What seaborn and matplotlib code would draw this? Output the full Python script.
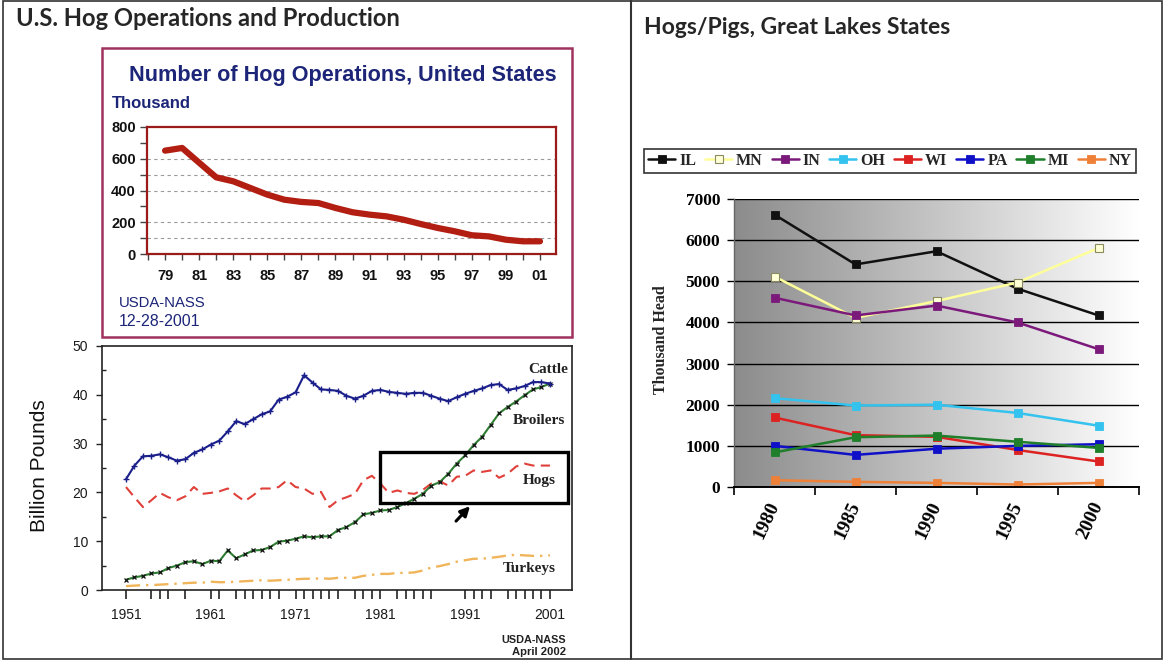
import numpy as np
import pandas as pd
import matplotlib.pyplot as plt
import seaborn as sns
from matplotlib.patches import Rectangle
from matplotlib.colors import LinearSegmentedColormap
from matplotlib.ticker import FixedLocator, MultipleLocator

# --- hog operations, United States (thousand)
ops_years = list(range(1979, 2002))
ops_thousand = [651, 668, 575, 483, 458, 416, 374, 342, 328, 321, 290, 263,
                248, 237, 216, 189, 164, 143, 118, 111, 90, 80, 80]

# --- meat production (billion pounds)
prod_years = list(range(1951, 2002))
cattle = [22.7, 25.5, 27.4, 27.5, 27.8, 27.2, 26.5, 26.8, 28.1, 28.8,
          29.8, 30.6, 32.5, 34.6, 34.0, 35.0, 36.0, 36.6, 39.0, 39.6,
          40.5, 44.0, 42.5, 41.1, 41.0, 40.8, 39.8, 39.2, 39.8, 40.8,
          41.0, 40.6, 40.4, 40.2, 40.4, 40.4, 39.8, 39.2, 38.7, 39.5,
          40.2, 40.8, 41.3, 42.0, 42.2, 41.0, 41.3, 41.8, 42.6, 42.6, 42.3]
broilers = [2.1, 2.6, 2.9, 3.4, 3.6, 4.5, 5.0, 5.7, 5.9, 5.3,
            6.0, 5.9, 8.1, 6.5, 7.3, 8.1, 8.2, 8.8, 9.9, 10.1,
            10.5, 11.0, 10.8, 11.0, 11.0, 12.3, 12.9, 13.9, 15.5, 15.8,
            16.3, 16.4, 17.0, 17.8, 18.7, 19.7, 21.4, 22.1, 23.8, 25.9,
            27.6, 29.7, 31.4, 33.8, 36.2, 37.5, 38.6, 39.9, 41.1, 41.6, 42.3]
hogs = [21.1, 19.0, 17.0, 18.4, 19.9, 19.0, 18.4, 19.2, 21.1, 19.7,
        19.9, 20.2, 20.8, 19.4, 18.2, 19.4, 20.8, 20.8, 21.1, 22.5,
        21.1, 20.8, 19.7, 20.1, 17.0, 18.4, 19.0, 19.7, 22.5, 23.4,
        21.8, 19.9, 20.4, 19.9, 19.7, 20.5, 21.8, 22.3, 21.4, 23.2,
        23.4, 24.5, 24.2, 24.5, 23.0, 23.8, 25.3, 25.9, 25.5, 25.5, 25.5]
turkeys = [0.8, 0.9, 1.0, 1.0, 1.1, 1.2, 1.3, 1.4, 1.5, 1.5,
           1.7, 1.6, 1.6, 1.7, 1.8, 1.9, 2.0, 1.9, 2.0, 2.1,
           2.2, 2.3, 2.3, 2.4, 2.3, 2.5, 2.5, 2.5, 2.9, 3.1,
           3.3, 3.3, 3.5, 3.5, 3.6, 4.0, 4.6, 4.9, 5.3, 5.8,
           6.1, 6.4, 6.4, 6.6, 6.8, 7.1, 7.2, 7.1, 7.0, 7.0, 7.1]
prod_minor_ticks = [1954, 1955, 1956, 1958, 1962, 1964, 1965, 1966, 1967, 1968,
                    1969, 1972, 1973, 1974, 1975, 1976, 1978, 1979, 1980, 1983,
                    1984, 1985, 1986, 1987, 1992, 1993, 1994, 1996, 1997, 1998,
                    1999, 2000]

# --- hogs/pigs, Great Lakes states (thousand head)
gl_years = ['1980', '1985', '1990', '1995', '2000']
gl_states = ['IL', 'MN', 'IN', 'OH', 'WI', 'PA', 'MI', 'NY']
il = [6620, 5410, 5730, 4820, 4170]
mn = [5115, 4110, 4520, 4970, 5810]
ind = [4600, 4170, 4410, 4000, 3350]
oh = [2160, 1980, 2000, 1800, 1490]
wi = [1690, 1260, 1220, 900, 620]
pa = [1000, 780, 930, 1000, 1040]
mi = [840, 1210, 1250, 1100, 950]
ny = [165, 125, 100, 60, 100]
gl_colors = {'IL': '#111111', 'MN': '#ffff99', 'IN': '#7b1a7b', 'OH': '#33c3ee',
             'WI': '#dd2222', 'PA': '#1010c8', 'MI': '#1f7f2a', 'NY': '#ee8038'}

sns.set_theme(style='white')
plt.rcParams['font.family'] = ['Liberation Sans', 'DejaVu Sans']

W, H = 1164, 661
fig = plt.figure(figsize=(W / 100, H / 100), dpi=100)


def px(x0, y0, x1, y1):
    return [x0 / W, 1 - y1 / H, (x1 - x0) / W, (y1 - y0) / H]


def fit(t, width):
    w = t.get_window_extent(fig.canvas.get_renderer()).width
    t.set_fontsize(t.get_fontsize() * width / w)


# page frame, drawn in pixel coordinates
bg = fig.add_axes([0, 0, 1, 1])
bg.set_xlim(0, W)
bg.set_ylim(H, 0)
bg.axis('off')
bg.add_patch(Rectangle((3, 1), W - 5, H - 3, fill=False, ec='#333333', lw=1.2))
bg.plot([631, 631], [1, H - 2], color='#333333', lw=1.5)
bg.add_patch(Rectangle((102, 48), 470, 289, fill=False, ec='#a0325e', lw=1.8))

t = bg.text(16, 19, 'U.S. Hog Operations and Production', family='Lato',
            weight='bold', fontsize=15, va='center')
fit(t, 385)
t = bg.text(644, 27, 'Hogs/Pigs, Great Lakes States', family='Lato',
            weight='bold', fontsize=15, va='center')
fit(t, 308)

# ---------- inset: number of hog operations
navy = '#1c2578'
t = bg.text(343, 75, 'Number of Hog Operations, United States', color=navy,
            weight='bold', fontsize=14, ha='center', va='center')
fit(t, 428)
t = bg.text(112, 103, 'Thousand', color=navy, weight='bold', fontsize=11, va='center')
fit(t, 80)
t = bg.text(119, 303, 'USDA-NASS', color=navy, fontsize=10, va='center')
fit(t, 87)
t = bg.text(119, 321, '12-28-2001', color=navy, fontsize=10, va='center')
fit(t, 82)

ax1 = fig.add_axes(px(147, 127, 556, 254))
sns.lineplot(x=ops_years, y=ops_thousand, color='#b21e12', lw=4.5, ax=ax1)
ax1.set_xlim(1977.94, 2001.94)
ax1.set_ylim(0, 800)
for v in [100, 200, 400, 500, 600]:
    ax1.axhline(v, color='#9a9a9a', lw=0.8, ls=(0, (3, 3)), zorder=1)
ax1.set_xticks(range(1979, 2002, 2))
ax1.set_xticklabels([f'{y % 100:02d}' for y in range(1979, 2002, 2)])
ax1.xaxis.set_minor_locator(MultipleLocator(1))
ax1.set_yticks(range(0, 801, 200))
ax1.yaxis.set_minor_locator(MultipleLocator(100))
ax1.tick_params(axis='x', which='both', length=4, width=1, color='#444444', bottom=True, pad=7)
ax1.tick_params(axis='y', which='both', length=5, width=1, color='#444444', left=True, pad=3)
ax1.tick_params(labelsize=10.5, labelcolor='#111111')
plt.setp(ax1.get_xticklabels() + ax1.get_yticklabels(), fontweight='bold')
for s in ax1.spines.values():
    s.set_color('#9b1b1b')
    s.set_linewidth(1.6)

# ---------- meat production
prod = pd.DataFrame({'year': prod_years, 'Cattle': cattle, 'Broilers': broilers,
                     'Hogs': hogs, 'Turkeys': turkeys})
ax2 = fig.add_axes(px(102, 346, 572, 590))
sns.lineplot(data=prod, x='year', y='Turkeys', color='#f0b55a', lw=1.7,
             ls=(0, (6, 2.5, 1, 2.5)), ax=ax2)
sns.lineplot(data=prod, x='year', y='Hogs', color='#e0403a', lw=1.5,
             ls=(0, (5, 3)), ax=ax2)
sns.lineplot(data=prod, x='year', y='Broilers', color='#2e7d32', lw=1.5,
             marker='x', ms=3.5, mew=0.9, mec='#111111', ax=ax2)
sns.lineplot(data=prod, x='year', y='Cattle', color='#1b1f8a', lw=1.5,
             marker='+', ms=5, mew=1, mec='#1b1f8a', ax=ax2)
ax2.set(xlabel='', ylabel='')
ax2.set_xlim(1948.17, 2003.6)
ax2.set_ylim(0, 50)
ax2.set_xticks(range(1951, 2002, 10))
ax2.xaxis.set_minor_locator(FixedLocator(prod_minor_ticks))
ax2.set_yticks(range(0, 51, 10))
ax2.yaxis.set_minor_locator(MultipleLocator(5))
ax2.tick_params(axis='x', which='both', length=6.5, width=1.2, color='#222222',
                bottom=True, direction='out', pad=6.5)
ax2.tick_params(axis='y', which='major', length=4, width=1, color='#222222', left=True, pad=6)
ax2.tick_params(axis='y', which='minor', length=3, width=1, color='#222222', left=True, direction='in')
ax2.tick_params(labelsize=10, labelcolor='#1a1a1a')
for s in ax2.spines.values():
    s.set_color('#222222')
    s.set_linewidth(1.2)
ax2.set_ylabel('Billion Pounds', fontsize=15, color='#111111')
ax2.yaxis.set_label_coords(-0.112, 0.508)

ax2.add_patch(Rectangle((1980.95, 17.83), 22.17, 10.45, fill=False, ec='black',
                        lw=2.4, zorder=5, clip_on=False))
ax2.annotate('', xy=(1991.8, 17.6), xytext=(1989.7, 13.7),
             arrowprops=dict(arrowstyle='-|>', color='black', lw=2.2, mutation_scale=14))
lab_kw = dict(family='Liberation Serif', weight='bold', fontsize=11,
              color='#222222', ha='center', va='center')
ax2.text(2000.8, 45.1, 'Cattle', **lab_kw)
ax2.text(1999.7, 34.8, 'Broilers', **lab_kw)
ax2.text(1999.8, 22.5, 'Hogs', **lab_kw)
ax2.text(1998.6, 4.5, 'Turkeys', **lab_kw)

t = bg.text(566, 640, 'USDA-NASS', ha='right', va='center', weight='bold',
            fontsize=7, color='#222222')
fit(t, 65)
t = bg.text(566, 652, 'April 2002', ha='right', va='center', weight='bold',
            fontsize=7, color='#222222')
fit(t, 54)

# ---------- Great Lakes states
gl = pd.DataFrame({'year': gl_years, 'IL': il, 'MN': mn, 'IN': ind, 'OH': oh,
                   'WI': wi, 'PA': pa, 'MI': mi, 'NY': ny})
gl = gl.melt(id_vars='year', var_name='state', value_name='head')

ax3 = fig.add_axes(px(734, 199, 1139, 487))
for st in gl_states:
    d = gl[gl['state'] == st]
    c = gl_colors[st]
    if st == 'MN':
        sns.lineplot(data=d, x='year', y='head', color=c, lw=1.8, marker='s', ms=6,
                     mfc='#ffffd8', mec='#8a8a60', mew=0.8, label=st, ax=ax3)
    else:
        sns.lineplot(data=d, x='year', y='head', color=c, lw=1.8, marker='s', ms=5.5,
                     mfc=c, mec=c, mew=0.6, label=st, ax=ax3)
ax3.get_legend().remove()

grad = LinearSegmentedColormap.from_list('grad', ['#8c8c8c', '#ffffff'])
ax3.imshow(np.linspace(0, 1, 256)[None, :], cmap=grad, extent=(-0.5, 4.5, 0, 7000),
           aspect='auto', zorder=0)
ax3.set_xlim(-0.5, 4.5)
ax3.set_ylim(0, 7000)
ax3.set_yticks(range(0, 7001, 1000))
ax3.yaxis.grid(True, color='black', lw=1)
ax3.set_axisbelow(True)
ax3.set_xticks(np.arange(-0.5, 5, 1), minor=True)
ax3.tick_params(axis='x', which='minor', length=6, width=1.2, color='black', bottom=True)
ax3.tick_params(axis='x', which='major', length=0, pad=11)
ax3.tick_params(axis='y', length=5, width=1, color='black', left=True, pad=5)
ax3.tick_params(axis='y', labelsize=12.5, labelcolor='black')
ax3.tick_params(axis='x', labelsize=14, labelcolor='black')
plt.setp(ax3.get_yticklabels(), family='Liberation Serif', weight='bold')
plt.setp(ax3.get_xticklabels(), family='Liberation Serif', weight='bold',
         rotation=65, ha='right', va='center', rotation_mode='anchor')
for k in ['top', 'right']:
    ax3.spines[k].set_visible(False)
ax3.spines['bottom'].set_color('black')
ax3.spines['bottom'].set_linewidth(1.4)
ax3.spines['left'].set_color('#666666')
ax3.spines['left'].set_linewidth(1)
ax3.set_xlabel('')
ax3.set_ylabel('Thousand Head', family='Liberation Serif', weight='bold', fontsize=11.5)
ax3.yaxis.set_label_coords(-0.16, 0.51)

h, l = ax3.get_legend_handles_labels()
leg = fig.legend(h, l, ncol=8, loc='center', bbox_to_anchor=(890 / W, 1 - 161 / H),
                 frameon=True, fancybox=False, edgecolor='black',
                 prop={'family': 'Liberation Serif', 'weight': 'bold', 'size': 11.5},
                 handlelength=1.7, handletextpad=0.25, columnspacing=0.55,
                 borderpad=0.25, borderaxespad=0)
leg.get_frame().set_linewidth(1.2)

fig.savefig('out.png', dpi=100, facecolor='white')
